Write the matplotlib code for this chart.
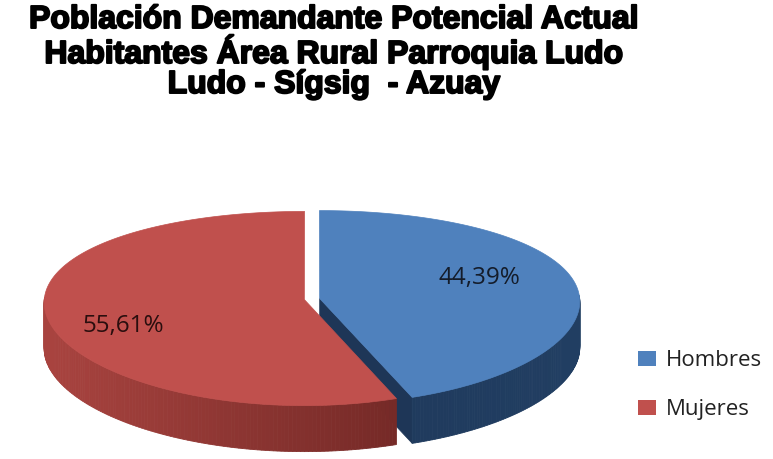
import numpy as np
import matplotlib
matplotlib.use('Agg')
import matplotlib.pyplot as plt
from matplotlib.patches import Polygon, Patch
import matplotlib.patheffects as pe
from matplotlib.colors import to_rgb

# datos
categorias = ['Hombres', 'Mujeres']
porcentajes = [44.39, 55.61]
etiquetas = ['44,39%', '55,61%']
colores_top = ['#4F81BD', '#C0504D']
titulo = ('Población Demandante Potencial Actual\n'
          'Habitantes Área Rural Parroquia Ludo\n'
          'Ludo - Sígsig  - Azuay')

# geometria del pastel "3D" (en pixeles de la figura)
cx, cy = 312.0, 299.0
rx = 260.0
b, c = 97.0, 9.0
prof = 46.0
explode = 0.03

def proj(u, v, h=0.0):
    # u: derecha, v: hacia el frente
    x = cx + rx * u * (1 + 0.03 * v)
    y = cy + b * v + c * v**2 + h
    return x, y

def mezcla(c1, c2, t):
    c1 = np.array(to_rgb(c1)); c2 = np.array(to_rgb(c2))
    return tuple(c1 + (c2 - c1) * t)

fig = plt.figure(figsize=(7.73, 4.59), dpi=100)
ax = fig.add_axes([0, 0, 1, 1])
ax.set_xlim(0, 773)
ax.set_ylim(459, 0)
ax.axis('off')

# angulos de cada porcion (sentido horario desde arriba)
total = sum(porcentajes)
inicio = 90.0
rangos = []
for p in porcentajes:
    fin = inicio - 360.0 * p / total
    rangos.append((inicio, fin))
    inicio = fin

def offset(a1, a2):
    m = np.radians((a1 + a2) / 2)
    return explode * np.cos(m), -explode * np.sin(m)

def pared(a1, a2, du, dv, c_izq, c_der, z):
    # pared lateral visible (frente: seno negativo)
    th = np.linspace(a1, a2, 240)
    for i in range(len(th) - 1):
        t0, t1 = np.radians(th[i]), np.radians(th[i + 1])
        if np.sin(t0) > 0.02 and np.sin(t1) > 0.02:
            continue
        p0 = proj(np.cos(t0) + du, -np.sin(t0) + dv)
        p1 = proj(np.cos(t1) + du, -np.sin(t1) + dv)
        q1 = proj(np.cos(t1) + du, -np.sin(t1) + dv, prof)
        q0 = proj(np.cos(t0) + du, -np.sin(t0) + dv, prof)
        xm = (p0[0] - (cx - rx)) / (2 * rx)
        col = mezcla(c_izq, c_der, np.clip(xm, 0, 1))
        ax.add_patch(Polygon([p0, p1, q1, q0], closed=True, facecolor=col,
                             edgecolor=col, linewidth=0.6, zorder=z))

def tapa(a1, a2, du, dv, col, z):
    th = np.radians(np.linspace(a1, a2, 300))
    pts = [proj(du, dv)] + [proj(np.cos(t) + du, -np.sin(t) + dv) for t in th]
    ax.add_patch(Polygon(pts, closed=True, facecolor=col, edgecolor=col,
                         linewidth=0.5, zorder=z))

# hombres (azul)
a1, a2 = rangos[0]
du, dv = offset(a1, a2)
t = np.radians(a2)
cara = [proj(du, dv), proj(np.cos(t) + du, -np.sin(t) + dv),
        proj(np.cos(t) + du, -np.sin(t) + dv, prof), proj(du, dv, prof)]
ax.add_patch(Polygon(cara, closed=True, facecolor='#1E3657', edgecolor='#1E3657',
                     linewidth=0.5, zorder=1))
pared(a1, a2, du, dv, '#1C3353', '#213E62', 2)
tapa(a1, a2, du, dv, colores_top[0], 4)

# mujeres (rojo)
a1r, a2r = rangos[1]
dur, dvr = offset(a1r, a2r)
pared(a1r, a2r, dur, dvr, '#A8433F', '#5C1D1B', 3)
tapa(a1r, a2r, dur, dvr, colores_top[1], 5)

# etiquetas de porcentaje
ax.text(479, 278, etiquetas[0], fontsize=17.5, family='Open Sans',
        color='#141c2a', ha='center', va='center', zorder=6)
ax.text(123, 326, etiquetas[1], fontsize=17.5, family='Open Sans',
        color='#2a0e0e', ha='center', va='center', zorder=6)

# titulo
fig.text(334 / 773, 1 - 5 / 459, titulo, ha='center', va='top', fontsize=23,
         family='Liberation Sans', fontweight='bold', linespacing=1.0,
         path_effects=[pe.withStroke(linewidth=1.4, foreground='black')])

# leyenda
handles = [Patch(facecolor=colores_top[i], edgecolor='none') for i in range(2)]
fig.legend(handles, categorias, loc='center left',
           bbox_to_anchor=(618 / 773, 1 - 385 / 459), frameon=False,
           prop={'family': 'Open Sans', 'size': 16}, labelspacing=1.25,
           handlelength=0.8, handleheight=0.65, handletextpad=0.45,
           labelcolor='#222222')

fig.savefig('out.png', dpi=100)
